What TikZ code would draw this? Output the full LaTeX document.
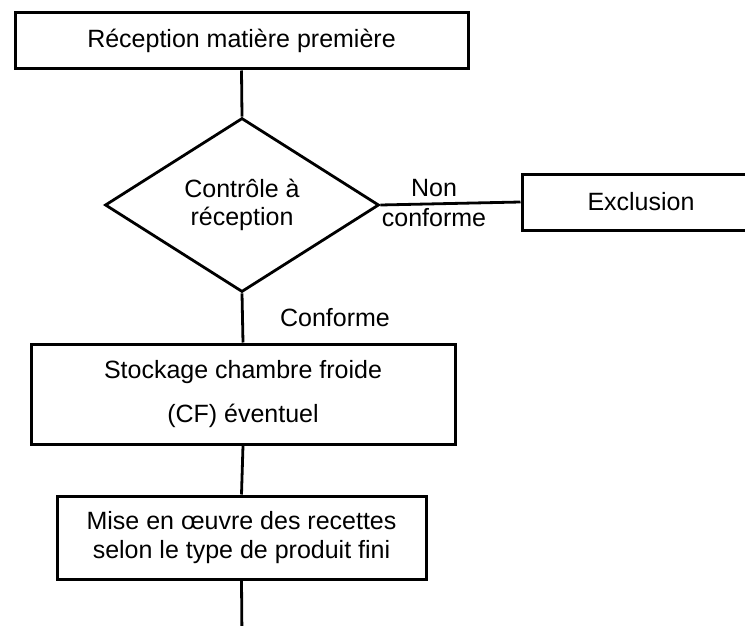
\documentclass[tikz,border=0pt]{standalone}
\usepackage{fontspec}
\setmainfont{Liberation Sans}
\usetikzlibrary{shapes.geometric}

\tikzset{
  stepbox/.style={draw=black, line width=3pt, rectangle, inner sep=0pt, align=center},
  testbox/.style={draw=black, line width=2.8pt, diamond, inner sep=0pt, align=center,
                  minimum width=274pt, minimum height=174pt, aspect=1.575},
  link/.style={draw=black, line width=2.8pt},
  txt/.style={inner sep=0pt, align=center}
}

\begin{document}
\begin{tikzpicture}[x=1pt, y=-1pt, font=\fontsize{25}{29}\selectfont]
  \clip (0,0) rectangle (745,626);
  \fill[white] (0,0) rectangle (745,626);

  % process steps
  \node[stepbox, minimum width=453pt, minimum height=56pt] (recep) at (241.5,41)
    {Réception matière première};
  \node[testbox, font=\fontsize{25}{28}\selectfont] (ctrl) at (242,205)
    {Contrôle à\\ réception};
  \node[stepbox, minimum width=238pt, minimum height=56pt] (excl) at (641,202)
    {Exclusion};
  \node[stepbox, minimum width=424pt, minimum height=100pt,
        font=\fontsize{25}{44}\selectfont] (stock) at (243,394)
    {Stockage chambre froide\\ (CF) éventuel};
  \node[stepbox, minimum width=369pt, minimum height=83pt] (mise) at (241.5,537.5)
    {Mise en œuvre des recettes\\ selon le type de produit fini};
  \coordinate (suite) at (242,640);

  % connectors
  \draw[link] (recep.south) -- (ctrl.north);
  \draw[link] (ctrl.east) -- (excl.west);
  \draw[link] (ctrl.south) -- (stock.north);
  \draw[link] (stock.south) -- (mise.north);
  \draw[link] (mise.south) -- (suite);

  % branch labels
  \node[txt, font=\fontsize{25}{30}\selectfont] (nc) at (434,203) {Non\\ conforme};
  \node[txt] (ok) at (335,318) {Conforme};
\end{tikzpicture}
\end{document}
